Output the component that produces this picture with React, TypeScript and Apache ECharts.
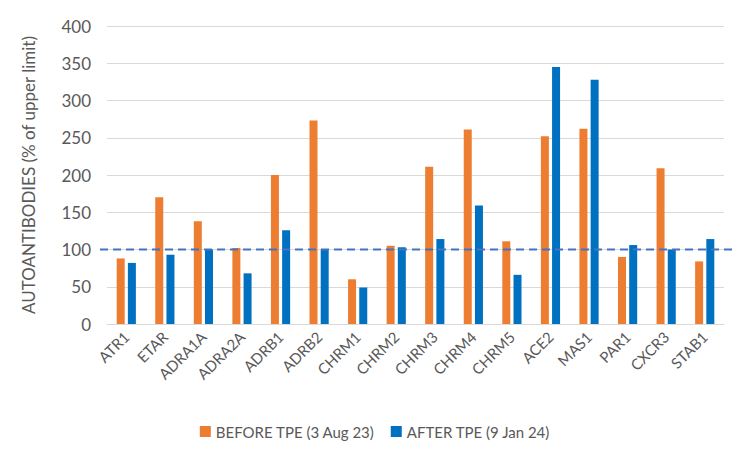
import React, { useEffect, useRef } from "react";
import * as echarts from "echarts";

const categories = ["ATR1", "ETAR", "ADRA1A", "ADRA2A", "ADRB1", "ADRB2", "CHRM1", "CHRM2", "CHRM3", "CHRM4", "CHRM5", "ACE2", "MAS1", "PAR1", "CXCR3", "STAB1"];
const beforeTPE = [88, 170, 138, 102, 200, 273, 60, 105, 211, 261, 111, 252, 262, 90, 209, 84];
const afterTPE = [82, 93, 100, 68, 126, 100, 49, 103, 114, 159, 66, 345, 328, 106, 100, 114];
const seriesNames = ["BEFORE TPE (3 Aug 23)", "AFTER TPE (9 Jan 24)"];
const yTitle = "AUTOANTIBODIES (% of upper limit)";
const refLevel = 100;

const FONT = "Lato, 'Open Sans', sans-serif";

export default function App() {
  const ref = useRef<HTMLDivElement>(null);
  useEffect(() => {
    if (!ref.current) return;
    const chart = echarts.init(ref.current, null, { renderer: "svg" });
    chart.setOption({
      animation: false,
      backgroundColor: "#ffffff",
      textStyle: { fontFamily: FONT },
      grid: { left: 105, right: 24, top: 24, bottom: 136, containLabel: false },
      legend: {
        bottom: 16,
        left: "center",
        itemWidth: 11,
        itemHeight: 11,
        itemGap: 16,
        icon: "rect",
        textStyle: { fontFamily: FONT, fontSize: 15, color: "#595959" },
        data: seriesNames,
      },
      xAxis: {
        type: "category",
        data: categories,
        axisTick: { show: false },
        axisLine: { lineStyle: { color: "#d9d9d9", width: 1 } },
        axisLabel: { rotate: 45, fontFamily: FONT, fontSize: 15, color: "#595959", margin: 10, interval: 0 },
      },
      yAxis: {
        type: "value",
        min: 0,
        max: 400,
        interval: 50,
        name: yTitle,
        nameLocation: "middle",
        nameGap: 70,
        nameTextStyle: { fontFamily: FONT, fontSize: 17, color: "#595959" },
        axisLine: { show: false },
        axisTick: { show: false },
        axisLabel: { fontFamily: FONT, fontSize: 17, color: "#595959", margin: 16 },
        splitLine: { lineStyle: { color: "#d9d9d9", width: 1 } },
      },
      series: [
        {
          name: seriesNames[0],
          type: "bar",
          data: beforeTPE,
          barWidth: 8,
          barGap: "40%",
          itemStyle: { color: "#ED7D31" },
        },
        {
          name: seriesNames[1],
          type: "bar",
          data: afterTPE,
          barWidth: 8,
          barGap: "40%",
          itemStyle: { color: "#0070C0" },
        },
      ],
    });
    const y = chart.convertToPixel({ yAxisIndex: 0 }, refLevel) as number;
    chart.setOption({
      graphic: [
        {
          type: "line",
          silent: true,
          z: 10,
          shape: { x1: 98, y1: y, x2: 731, y2: y },
          style: { stroke: "#4472C4", lineWidth: 2, lineDash: [8, 5] },
        },
      ],
    });
    return () => chart.dispose();
  }, []);
  return (
    <div
      ref={ref}
      style={{ width: 746, height: 458, border: "2px solid #d9d9d9", margin: -8, boxSizing: "content-box" }}
    />
  );
}
